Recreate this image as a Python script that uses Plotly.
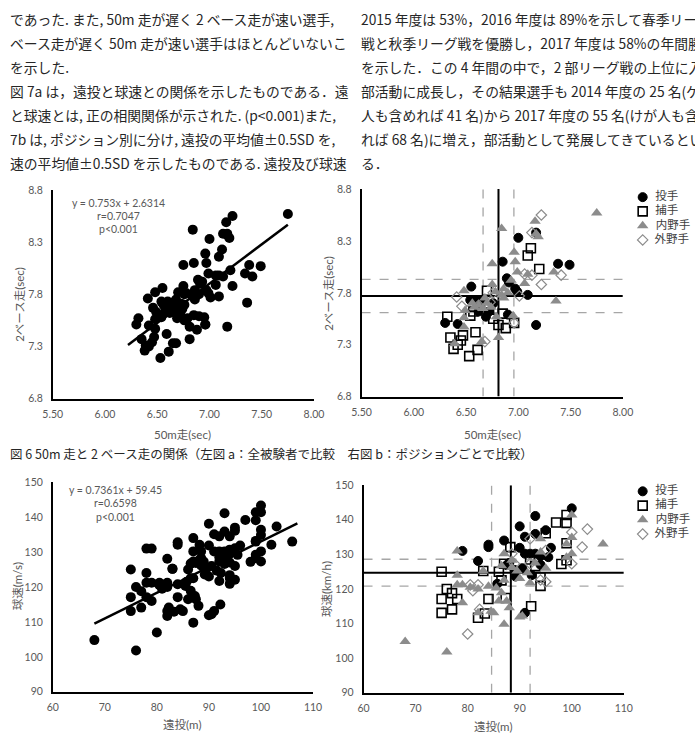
import plotly.graph_objects as go

W, H = 695, 747

# ---------------- data ----------------
# Fig 6b : 50m run (sec) vs 2-base run (sec) by position
p50 = [7.17, 7.00, 6.85, 7.38, 7.49, 6.89, 6.91, 6.55, 6.97, 6.99, 7.09, 6.54, 6.60, 6.65, 6.69, 6.30, 6.42, 6.90, 7.17, 6.72, 6.62, 6.76]
p2b = [8.38, 8.33, 8.10, 8.08, 8.07, 7.94, 7.90, 7.86, 7.84, 7.81, 7.78, 7.73, 7.73, 7.72, 7.57, 7.51, 7.50, 7.59, 7.49, 7.62, 7.62, 7.70]
c50 = [7.12, 7.09, 7.20, 6.70, 6.32, 6.54, 6.85, 6.76, 6.81, 6.96, 6.88, 6.35, 6.47, 6.59, 6.45, 6.38, 6.42, 6.61, 6.53, 6.57, 6.72]
c2b = [8.23, 8.16, 8.03, 7.82, 7.57, 7.58, 7.60, 7.55, 7.49, 7.51, 7.46, 7.37, 7.39, 7.42, 7.34, 7.26, 7.30, 7.25, 7.19, 7.62, 7.65]
i50 = [7.75, 7.16, 7.17, 6.84, 7.19, 6.96, 6.97, 6.75, 6.99, 7.09, 7.34, 6.93, 6.75, 7.06, 6.48, 6.78, 6.86, 6.84, 6.86, 7.36, 6.68, 6.58, 6.49, 6.66, 6.74, 6.79, 6.48, 6.95, 6.48, 6.65, 6.81, 6.39, 6.62, 6.70, 6.90, 6.56]
i2b = [8.57, 8.49, 8.37, 8.42, 8.34, 8.19, 8.10, 8.08, 8.00, 7.98, 8.00, 7.92, 7.88, 7.89, 7.82, 7.81, 7.84, 7.78, 7.75, 7.72, 7.75, 7.66, 7.63, 7.65, 7.66, 7.57, 7.56, 7.58, 7.47, 7.33, 7.37, 7.31, 7.68, 7.70, 7.80, 7.70]
o50 = [7.22, 7.13, 7.06, 7.13, 7.41, 7.22, 6.41, 6.46, 6.73, 7.01, 6.68, 6.96, 6.76, 6.62]
o2b = [8.55, 8.38, 7.98, 7.97, 7.97, 7.88, 7.76, 7.67, 7.71, 7.77, 7.33, 7.51, 7.80, 7.68]

# Fig 7b : long throw (m) vs ball speed by position
pT = [100, 93, 90, 95, 91, 93, 84, 84, 87, 90, 96, 79, 91, 92, 93, 87.5, 82, 95.5, 94, 92.3, 89.2, 85.7, 91, 88, 94, 89, 90.5]
pV = [143.3, 141.1, 138.1, 137.0, 135.1, 135.9, 132.8, 132.1, 134.0, 131.9, 131.9, 131.0, 130.2, 130.2, 130.2, 126.9, 128.1, 129.2, 127.0, 124.0, 123.6, 121.5, 113.1, 127.5, 129.5, 125.5, 126.0]
cT = [99, 97, 99, 95, 99, 88.2, 98, 99, 75, 83, 86, 87, 93, 94, 94, 87.3, 92.2, 76, 77, 75, 78, 77, 75, 84, 82, 83.3, 86.5, 92]
cV = [141.4, 139.2, 139.1, 136.1, 133.2, 132.1, 127.2, 128.3, 125.0, 125.2, 125.0, 127.3, 126.6, 123.4, 120.9, 117.4, 115.0, 120.0, 118.8, 117.1, 117.1, 114.1, 113.1, 117.1, 111.7, 112.9, 122.5, 128.5]
iT = [68, 76, 78, 100, 99, 106, 100, 100, 99, 94, 94, 87, 83, 78, 88.5, 86.5, 88.5, 89.5, 91.5, 92, 78, 79, 80.5, 82, 84, 85.5, 86.5, 79, 82, 84.5, 85, 86, 87.5, 88, 87, 90, 90.5, 93, 95, 90, 87]
iV = [104.8, 101.8, 131, 141.4, 133, 133, 134.9, 130.2, 129.2, 134.5, 130.7, 130.2, 125.2, 124, 128.3, 126.7, 126.2, 125.2, 124.7, 121.7, 121.2, 121.2, 120.5, 120.0, 120.8, 120.3, 118.9, 116.0, 113.1, 113.6, 113.1, 116.5, 116.5, 114.6, 109.8, 111.9, 112.2, 127.5, 126.0, 123.0, 122.5]
oT = [103, 100, 102, 100, 95, 95, 94, 92, 80, 80.5, 82, 82.3, 88.5, 89, 92, 81]
oV = [137.3, 136.4, 132.1, 127.3, 131.1, 122.1, 122.6, 134.5, 107, 121.2, 121.2, 114.1, 130.2, 127.3, 127.3, 119.5]

positions = ["投手", "捕手", "内野手", "外野手"]

# regression lines (from the printed equations) and x-extent
reg1 = dict(slope=0.753, icpt=2.6314, x0=6.22, x1=7.75, r="0.7047", p="0.001")
reg2 = dict(slope=0.7361, icpt=59.45, x0=68, x1=107, r="0.6598", p="0.001")

# mean and SD for fig b
mean50, sd50 = 6.81, 0.295
mean2b, sd2b = 7.77, 0.32
meanT, sdT = 88.3, 7.4
meanV, sdV = 124.7, 7.8

body_left = [
    "であった. また, 50m 走が遅く 2 ベース走が速い選手,",
    "ベース走が遅く 50m 走が速い選手はほとんどいないこ",
    "を示した.",
    "図 7a は，遠投と球速との関係を示したものである．遠",
    "と球速とは, 正の相関関係が示された. (p<0.001)また,",
    "7b は, ポジション別に分け, 遠投の平均値±0.5SD を,",
    "速の平均値±0.5SD を示したものである. 遠投及び球速",
]
body_right = [
    "2015 年度は 53%，2016 年度は 89%を示して春季リーグ",
    "戦と秋季リーグ戦を優勝し，2017 年度は 58%の年間勝率",
    "を示した．この 4 年間の中で，2 部リーグ戦の上位に入る",
    "部活動に成長し，その結果選手も 2014 年度の 25 名(ケガ",
    "人も含めれば 41 名)から 2017 年度の 55 名(けが人も含め",
    "れば 68 名)に増え，部活動として発展してきているといえ",
    "る．",
]
caption6 = "図 6 50m 走と 2 ベース走の関係（左図 a：全被験者で比較　右図 b：ポジションごとで比較）"

# ---------------- styling ----------------
GREY = "#595959"
TRI = "#8c8c8c"
CJK = "Lato, Noto Sans CJK JP, sans-serif"
BODY = "Noto Sans CJK JP, sans-serif"

def px(x):
    return x / W

def py(y):
    return 1 - y / H

styles = [
    dict(symbol="circle", size=9, color="black", line=dict(color="black", width=1)),
    dict(symbol="square-open", size=9, color="black", line=dict(color="black", width=1.6)),
    dict(symbol="triangle-up", size=10, color=TRI, line=dict(color=TRI, width=0)),
    dict(symbol="diamond-open", size=8, color=TRI, line=dict(color=TRI, width=1.2)),
]

fig = go.Figure()

# panel boxes (pixel coords) : left, right, top, bottom
boxes = {
    1: (44, 313, 187, 399),
    2: (362, 631, 186, 397),
    3: (44, 312, 484, 697),
    4: (364, 632, 487, 698),
}

def axname(i, a):
    return f"{a}axis" if i == 1 else f"{a}axis{i}"

def ref(i, a):
    return a if i == 1 else f"{a}{i}"

ranges = {
    1: ((5.5, 8.0), (6.8, 8.8)),
    2: ((5.5, 8.0), (6.8, 8.8)),
    3: ((60, 110), (90, 150)),
    4: ((60, 110), (90, 150)),
}
for i, (l, r, t, b) in boxes.items():
    (xr, yr) = ranges[i]
    top = i in (1, 2)
    fig.layout[axname(i, "x")] = dict(
        domain=[px(l), px(r)], range=list(xr), anchor=ref(i, "y"),
        showgrid=False, zeroline=False, showline=True, linecolor="black", linewidth=1.6,
        ticks="", tickmode="linear", tick0=xr[0], dtick=0.5 if top else 10,
        tickformat=".2f" if top else "d",
        tickfont=dict(family=CJK, size=10.5, color=GREY), ticklabelstandoff=5,
    )
    fig.layout[axname(i, "y")] = dict(
        domain=[py(b), py(t)], range=list(yr), anchor=ref(i, "x"),
        showgrid=False, zeroline=False, showline=True, linecolor="black", linewidth=1.6,
        ticks="", tickmode="linear", tick0=yr[0], dtick=0.5 if top else 10,
        tickformat=".1f" if top else "d",
        tickfont=dict(family=CJK, size=10.5, color=GREY), ticklabelstandoff=6,
    )

# ----- panel 1 : all subjects -----
all50 = p50 + c50 + i50 + o50
all2b = p2b + c2b + i2b + o2b
fig.add_trace(go.Scatter(x=all50, y=all2b, mode="markers", xaxis="x", yaxis="y",
                         marker=dict(symbol="circle", size=10, color="black"), showlegend=False))
fig.add_trace(go.Scatter(x=[reg1["x0"], reg1["x1"]],
                         y=[reg1["slope"] * reg1["x0"] + reg1["icpt"], reg1["slope"] * reg1["x1"] + reg1["icpt"]],
                         mode="lines", line=dict(color="black", width=2.5), xaxis="x", yaxis="y", showlegend=False))

# ----- panel 3 : all subjects -----
allT = pT + cT + iT + oT
allV = pV + cV + iV + oV
fig.add_trace(go.Scatter(x=allT, y=allV, mode="markers", xaxis="x3", yaxis="y3",
                         marker=dict(symbol="circle", size=10, color="black"), showlegend=False))
fig.add_trace(go.Scatter(x=[reg2["x0"], reg2["x1"]],
                         y=[reg2["slope"] * reg2["x0"] + reg2["icpt"], reg2["slope"] * reg2["x1"] + reg2["icpt"]],
                         mode="lines", line=dict(color="black", width=2.5), xaxis="x3", yaxis="y3", showlegend=False))

# ----- mean / SD lines (panels 2 & 4) -----
def cross(i, mx, sx, my, sy):
    (xr, yr) = ranges[i]
    xa, ya = ref(i, "x"), ref(i, "y")
    for v in (mx - sx / 2, mx + sx / 2):
        fig.add_shape(type="line", xref=xa, yref=ya, x0=v, x1=v, y0=yr[0], y1=yr[1],
                      line=dict(color="#a6a6a6", width=1.3, dash="dash"), layer="below")
    for v in (my - sy / 2, my + sy / 2):
        fig.add_shape(type="line", xref=xa, yref=ya, y0=v, y1=v, x0=xr[0], x1=xr[1],
                      line=dict(color="#a6a6a6", width=1.3, dash="dash"), layer="below")
    fig.add_shape(type="line", xref=xa, yref=ya, x0=mx, x1=mx, y0=yr[0], y1=yr[1],
                  line=dict(color="black", width=2), layer="below")
    fig.add_shape(type="line", xref=xa, yref=ya, y0=my, y1=my, x0=xr[0], x1=xr[1],
                  line=dict(color="black", width=2), layer="below")

cross(2, mean50, sd50, mean2b, sd2b)
cross(4, meanT, sdT, meanV, sdV)

groups2 = [(p50, p2b), (c50, c2b), (i50, i2b), (o50, o2b)]
groups4 = [(pT, pV), (cT, cV), (iT, iV), (oT, oV)]
for k in range(4):
    fig.add_trace(go.Scatter(x=groups2[k][0], y=groups2[k][1], mode="markers", xaxis="x2", yaxis="y2",
                             marker=styles[k], showlegend=False))
for k in range(4):
    fig.add_trace(go.Scatter(x=groups4[k][0], y=groups4[k][1], mode="markers", xaxis="x4", yaxis="y4",
                             marker=styles[k], showlegend=False))

# ----- manual legends on hidden axes -----
legend_boxes = {5: (645, 695, 187, 245), 6: (645, 695, 486, 544)}
for i, (l, r, t, b) in legend_boxes.items():
    fig.layout[axname(i, "x")] = dict(domain=[px(l), px(r)], range=[-0.5, 6.5], visible=False,
                                       anchor=ref(i, "y"), fixedrange=True)
    fig.layout[axname(i, "y")] = dict(domain=[py(b), py(t)], range=[3.5, -0.5], visible=False,
                                       anchor=ref(i, "x"), fixedrange=True)
    for k, name in enumerate(positions):
        fig.add_trace(go.Scatter(x=[0.4], y=[k], mode="markers+text", text=["  " + name],
                                 textposition="middle right",
                                 textfont=dict(family=CJK, size=11.5, color="#404040"),
                                 marker=styles[k], xaxis=ref(i, "x"), yaxis=ref(i, "y"),
                                 showlegend=False, cliponaxis=False))

ann = []
# equations
for (cx, y0, reg) in [(112, 200, reg1), (109, 492, reg2)]:
    lines = [f"y = {reg['slope']}x + {reg['icpt']}", f"r={reg['r']}", f"p<{reg['p']}"]
    for j, s in enumerate(lines):
        ann.append(dict(text=s, x=px(cx), y=py(y0 + j * 13.5), xref="paper", yref="paper",
                        showarrow=False, xanchor="center", yanchor="middle",
                        font=dict(family=CJK, size=10.5, color=GREY)))

# axis titles
for (s, x, y, rot) in [
    ("2ベース走(sec)", 9, 303, -90), ("2ベース走(sec)", 328, 292, -90),
    ("球速(m/s)", 8, 590, -90), ("球速(km/h)", 326, 593, -90),
    ("50m走(sec)", 178, 436, 0), ("50m走(sec)", 497, 435, 0),
    ("遠投(m)", 178, 730, 0), ("遠投(m)", 498, 732, 0),
]:
    ann.append(dict(text=s, x=px(x), y=py(y), xref="paper", yref="paper", showarrow=False,
                    xanchor="center", yanchor="middle", textangle=rot,
                    font=dict(family=CJK, size=11.5, color=GREY)))

# body text
for j, s in enumerate(body_left):
    ann.append(dict(text=s, x=px(-2), y=py(13 + j * 24.5), xref="paper", yref="paper", showarrow=False,
                    xanchor="left", yanchor="middle", font=dict(family=BODY, size=13.8, color="#262626")))
for j, s in enumerate(body_right):
    ann.append(dict(text=s, x=px(359), y=py(13 + j * 24.5), xref="paper", yref="paper", showarrow=False,
                    xanchor="left", yanchor="middle", font=dict(family=BODY, size=13.8, color="#262626")))
ann.append(dict(text=caption6, x=px(-2), y=py(455), xref="paper", yref="paper", showarrow=False,
                xanchor="left", yanchor="middle", font=dict(family=BODY, size=12.5, color="#262626")))

fig.update_layout(
    width=W, height=H, margin=dict(l=0, r=0, t=0, b=0),
    paper_bgcolor="white", plot_bgcolor="white",
    annotations=ann, showlegend=False,
)

fig.write_html("out.html")
